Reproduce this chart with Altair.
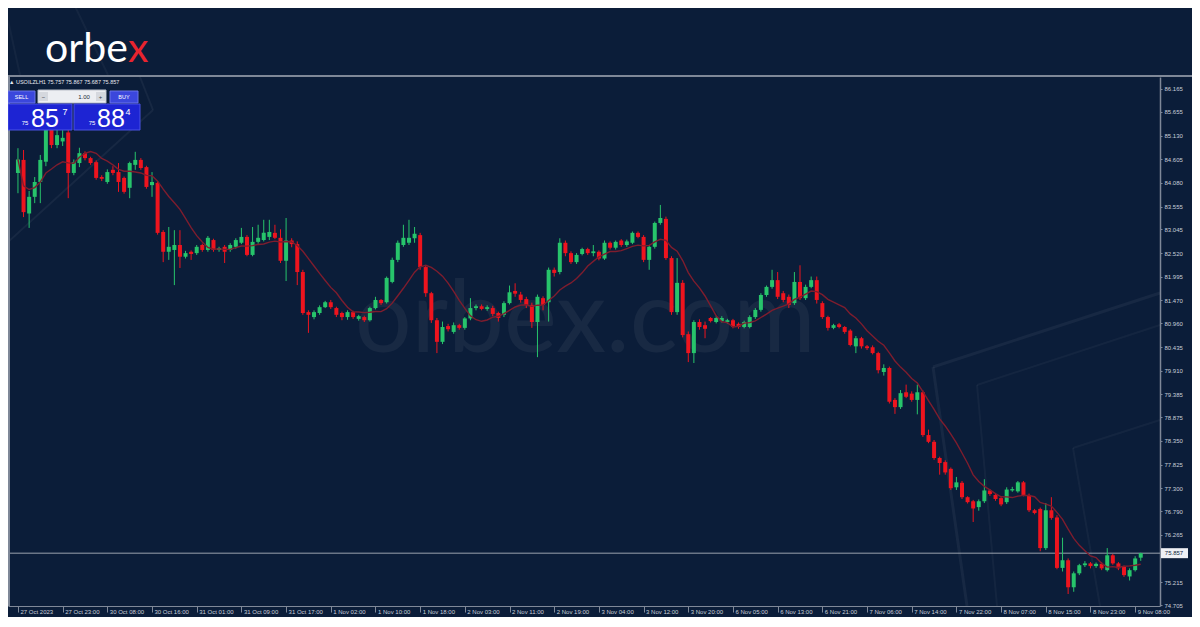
import json
import altair as alt
import pandas as pd

# ---------------- data (USOIL, H1) ----------------
opens = [84.30, 84.59, 83.40, 83.77, 84.10, 84.55, 85.30, 84.92, 85.00, 85.20,
         84.30, 84.52, 84.74, 84.63, 84.54, 84.21, 84.10, 84.37, 84.32, 84.19,
         83.97, 84.48, 84.59, 84.43, 84.03, 84.08, 82.99, 82.55, 82.59, 82.70,
         82.44, 82.55, 82.52, 82.70, 82.59, 82.81, 82.59, 82.66, 82.59, 82.66,
         82.75, 82.88, 82.48, 82.77, 82.81, 82.88, 82.97, 82.86, 82.35, 82.80,
         82.72, 82.10, 81.21, 81.10, 81.19, 81.32, 81.43, 81.30, 81.19, 81.10,
         81.21, 81.06, 81.10, 81.03, 81.30, 81.48, 81.43, 81.88, 82.37, 82.70,
         82.75, 82.85, 82.92, 82.21, 81.63, 81.03, 80.55, 80.90, 80.77, 80.92,
         80.86, 81.07, 81.30, 81.34, 81.28, 81.30, 81.19, 81.15, 81.41, 81.68,
         81.60, 81.50, 81.37, 80.99, 81.52, 81.43, 82.15, 82.10, 82.75, 82.52,
         82.32, 82.50, 82.61, 82.52, 82.55, 82.40, 82.75, 82.64, 82.80, 82.70,
         82.75, 82.97, 82.88, 82.37, 82.66, 83.19, 83.28, 82.41, 81.21, 81.86,
         80.72, 80.30, 80.99, 80.92, 81.08, 80.99, 81.01, 80.99, 81.03, 80.95,
         80.88, 80.88, 81.10, 81.26, 81.59, 81.77, 81.92, 81.63, 81.55, 81.41,
         81.88, 81.52, 81.77, 81.92, 81.41, 81.10, 80.86, 80.94, 80.88, 80.80,
         80.45, 80.63, 80.45, 80.43, 80.30, 79.88, 79.97, 79.26, 79.10, 79.43,
         79.40, 79.26, 79.43, 78.48, 78.33, 77.97, 77.88, 77.73, 77.32, 77.42,
         77.10, 77.01, 76.88, 77.01, 77.25, 77.15, 77.08, 76.99, 77.25, 77.23,
         77.43, 77.15, 76.81, 76.84, 75.97, 76.81, 76.65, 75.53, 75.70, 75.10,
         75.41, 75.59, 75.63, 75.57, 75.62, 75.48, 75.81, 75.63, 75.55, 75.34,
         75.48, 75.757]

highs = [84.85, 84.81, 83.90, 84.21, 84.70, 85.50, 85.55, 85.30, 85.25, 85.35,
         84.60, 84.86, 84.78, 84.66, 84.58, 84.25, 84.38, 84.45, 84.52, 84.22,
         84.55, 84.77, 84.63, 84.46, 84.32, 84.12, 83.03, 83.10, 83.03, 83.03,
         82.57, 82.58, 82.70, 82.73, 82.90, 82.84, 82.66, 82.70, 82.74, 82.85,
         83.08, 82.92, 83.10, 83.15, 83.26, 83.26, 83.15, 83.05, 83.30, 82.85,
         82.78, 82.15, 81.25, 81.25, 81.36, 81.46, 81.48, 81.33, 81.22, 81.25,
         81.24, 81.15, 81.13, 81.33, 81.55, 81.50, 82.00, 82.42, 82.80, 83.15,
         83.26, 83.10, 82.97, 82.25, 81.66, 81.08, 81.00, 80.95, 80.98, 80.95,
         81.10, 81.52, 81.38, 81.38, 81.36, 81.35, 81.22, 81.45, 81.80, 81.85,
         81.66, 81.55, 81.42, 81.60, 81.56, 82.20, 82.20, 82.85, 82.80, 82.56,
         82.52, 82.64, 82.64, 82.70, 82.58, 82.80, 82.78, 82.80, 82.83, 82.82,
         83.00, 83.00, 82.92, 82.70, 83.22, 83.59, 83.33, 82.45, 82.41, 81.92,
         80.78, 81.03, 81.05, 81.00, 81.10, 81.12, 81.12, 81.06, 81.06, 80.98,
         81.02, 81.14, 81.30, 81.63, 81.80, 82.15, 82.10, 81.68, 81.60, 82.10,
         82.25, 81.82, 82.00, 82.00, 81.45, 81.13, 80.95, 80.97, 80.90, 80.83,
         80.68, 80.66, 80.48, 80.47, 80.33, 80.05, 80.00, 79.30, 79.48, 79.60,
         79.45, 79.60, 79.47, 78.60, 78.37, 78.00, 77.92, 77.76, 77.55, 77.46,
         77.12, 77.04, 77.05, 77.50, 77.28, 77.18, 77.10, 77.32, 77.33, 77.46,
         77.46, 77.18, 76.84, 76.87, 76.97, 77.10, 76.70, 76.20, 75.74, 75.45,
         75.62, 75.68, 75.66, 75.65, 75.66, 75.97, 75.84, 75.66, 75.58, 75.52,
         75.79, 75.867]

lows = [83.85, 83.32, 83.08, 83.63, 83.63, 84.45, 84.85, 84.85, 84.90, 83.74,
        84.25, 84.43, 84.58, 84.48, 84.15, 84.12, 84.06, 84.25, 83.88, 83.84,
        83.74, 84.37, 84.37, 83.95, 83.77, 82.93, 82.32, 82.37, 81.81, 82.19,
        82.40, 82.37, 82.48, 82.55, 82.55, 82.55, 82.55, 82.30, 82.55, 82.62,
        82.72, 82.45, 82.45, 82.73, 82.78, 82.81, 82.83, 82.30, 81.90, 82.65,
        81.81, 81.15, 80.75, 81.05, 81.15, 81.30, 81.28, 81.10, 81.03, 81.04,
        81.06, 81.02, 80.99, 81.00, 81.27, 81.37, 81.40, 81.85, 82.32, 82.66,
        82.70, 82.75, 82.15, 81.55, 80.97, 80.30, 80.50, 80.78, 80.73, 80.82,
        80.82, 81.03, 81.25, 81.25, 81.24, 81.12, 81.00, 81.10, 81.38, 81.55,
        81.42, 81.30, 80.86, 80.21, 81.25, 81.00, 82.00, 82.05, 82.45, 82.28,
        82.28, 82.47, 82.48, 82.45, 82.36, 82.37, 82.60, 82.60, 82.66, 82.66,
        82.72, 82.85, 82.32, 82.15, 82.62, 83.15, 82.37, 81.15, 81.15, 80.65,
        80.10, 80.08, 80.82, 80.63, 80.98, 80.96, 80.98, 80.95, 80.85, 80.84,
        80.85, 80.85, 81.06, 81.22, 81.55, 81.73, 81.50, 81.43, 81.30, 81.37,
        81.48, 81.48, 81.74, 81.40, 81.06, 80.80, 80.83, 80.85, 80.73, 80.45,
        80.30, 80.40, 80.37, 80.27, 79.85, 79.80, 79.18, 78.95, 79.06, 79.30,
        79.22, 78.94, 78.44, 78.30, 77.93, 77.60, 77.60, 77.26, 77.26, 77.06,
        76.96, 76.55, 76.80, 76.97, 77.13, 77.02, 76.90, 76.95, 77.22, 77.20,
        77.12, 76.77, 76.72, 75.90, 75.93, 76.60, 75.50, 75.45, 74.95, 75.00,
        75.37, 75.55, 75.52, 75.53, 75.48, 75.45, 75.60, 75.48, 75.33, 75.25,
        75.45, 75.687]

closes = [84.60, 83.43, 83.77, 84.10, 84.59, 85.30, 84.92, 85.14, 85.08, 84.30,
          84.54, 84.74, 84.63, 84.52, 84.19, 84.17, 84.32, 84.30, 84.10, 83.88,
          84.52, 84.59, 84.41, 83.99, 84.10, 82.97, 82.55, 82.66, 82.70, 82.44,
          82.52, 82.50, 82.66, 82.59, 82.86, 82.59, 82.63, 82.55, 82.70, 82.81,
          82.88, 82.48, 82.77, 82.86, 82.97, 82.99, 82.86, 82.35, 82.80, 82.72,
          82.10, 81.19, 81.15, 81.21, 81.32, 81.43, 81.32, 81.15, 81.10, 81.21,
          81.10, 81.12, 81.03, 81.30, 81.48, 81.41, 81.97, 82.37, 82.75, 82.86,
          82.86, 82.95, 82.21, 81.63, 81.03, 80.55, 80.88, 80.83, 80.92, 80.86,
          81.07, 81.30, 81.34, 81.28, 81.32, 81.17, 81.08, 81.41, 81.65, 81.62,
          81.48, 81.37, 80.99, 81.55, 81.37, 82.15, 82.08, 82.75, 82.52, 82.32,
          82.48, 82.61, 82.52, 82.56, 82.40, 82.75, 82.64, 82.77, 82.70, 82.78,
          82.97, 82.88, 82.37, 82.66, 83.19, 83.30, 82.41, 81.21, 81.86, 80.70,
          80.30, 80.99, 80.88, 80.84, 81.01, 81.08, 81.08, 81.03, 80.88, 80.88,
          80.99, 81.10, 81.26, 81.59, 81.77, 81.92, 81.55, 81.48, 81.37, 81.88,
          81.52, 81.77, 81.92, 81.48, 81.10, 80.86, 80.92, 80.88, 80.77, 80.48,
          80.63, 80.45, 80.41, 80.30, 79.92, 79.97, 79.22, 79.10, 79.41, 79.33,
          79.26, 79.43, 78.48, 78.33, 77.97, 77.86, 77.65, 77.30, 77.43, 77.10,
          76.99, 76.85, 77.01, 77.25, 77.17, 77.06, 76.94, 77.27, 77.28, 77.43,
          77.15, 76.81, 76.75, 75.97, 76.81, 76.64, 75.53, 75.70, 75.10, 75.41,
          75.59, 75.63, 75.57, 75.62, 75.52, 75.81, 75.63, 75.52, 75.37, 75.48,
          75.74, 75.857]

time_labels = ["27 Oct 2023", "27 Oct 23:00", "30 Oct 08:00", "30 Oct 16:00",
               "31 Oct 01:00", "31 Oct 09:00", "31 Oct 17:00", "1 Nov 02:00",
               "1 Nov 10:00", "1 Nov 18:00", "2 Nov 03:00", "2 Nov 11:00",
               "2 Nov 19:00", "3 Nov 04:00", "3 Nov 12:00", "3 Nov 20:00",
               "6 Nov 05:00", "6 Nov 13:00", "6 Nov 21:00", "7 Nov 06:00",
               "7 Nov 14:00", "7 Nov 22:00", "8 Nov 07:00", "8 Nov 15:00",
               "8 Nov 23:00", "9 Nov 08:00"]
bars_per_label = 8

price_ticks = [86.165, 85.655, 85.130, 84.605, 84.080, 83.555, 83.045, 82.520,
               81.995, 81.470, 80.960, 80.435, 79.910, 79.385, 78.875, 78.350,
               77.825, 77.300, 76.790, 76.265, 75.215, 74.705]
last_price = 75.857
symbol_line = "\u25B2 USOILZLH1  75.757 75.867 75.687 75.857"
ma_period = 10

# ---------------- styling ----------------
BG = "#0b1d39"
GREEN = "#27c46b"
RED = "#ee141e"
MA_COLOR = "#7e1d2e"
FRAME = "#7f8898"
LABEL = "#c8cfda"

W, H = 1152, 529

df = pd.DataFrame({"i": list(range(len(opens))), "open": opens, "high": highs,
                   "low": lows, "close": closes})

xscale = alt.Scale(domain=[-0.887, 203.55], nice=False, zero=False)
yscale = alt.Scale(domain=[74.684, 86.431], nice=False, zero=False)

label_expr = json.dumps(time_labels) + "[round(datum.value / %d)]" % bars_per_label
xaxis = alt.Axis(values=list(range(0, bars_per_label * len(time_labels), bars_per_label)),
                 labelExpr=label_expr, title=None, grid=False,
                 labelAlign="left", labelBaseline="middle", labelFontSize=6,
                 labelFont="Liberation Sans", labelColor=LABEL, labelPadding=-1,
                 labelOffset=2, tickSize=6, tickColor=FRAME, domainColor=FRAME,
                 domainWidth=1, labelOverlap=False, labelFlush=False, labelBound=False)
yaxis = alt.Axis(orient="right", values=price_ticks, format=".3f", title=None, grid=False,
                 labelFontSize=6, labelFont="Liberation Sans", labelColor=LABEL,
                 labelAlign="left", labelBaseline="middle", tickSize=2, tickColor=FRAME,
                 labelPadding=2, domainColor=FRAME, domainWidth=1.5, labelOverlap=False,
                 labelFlush=False, labelBound=False)

X = alt.X("i:Q", scale=xscale, axis=xaxis)
updown = alt.condition("datum.close >= datum.open", alt.value(GREEN), alt.value(RED))

one = pd.DataFrame({"k": [0]})


def seg(x1, y1, x2, y2, color, width=1.0, opacity=1.0):
    return alt.Chart(one).mark_rule(color=color, strokeWidth=width, opacity=opacity).encode(
        x=alt.value(x1), y=alt.value(y1), x2=alt.value(x2), y2=alt.value(y2))


def txt(s, x, y, size, color, align="left", baseline="alphabetic",
        font="Liberation Sans", weight="normal", opacity=1.0):
    return alt.Chart(one).mark_text(text=s, fontSize=size, color=color, align=align,
                                    baseline=baseline, font=font, fontWeight=weight,
                                    opacity=opacity).encode(x=alt.value(x), y=alt.value(y))


def box(x1, y1, x2, y2, fill, stroke=None):
    kw = dict(fill=fill, opacity=1)
    if stroke:
        kw.update(stroke=stroke, strokeWidth=1)
    return alt.Chart(one).mark_rect(**kw).encode(
        x=alt.value(x1), x2=alt.value(x2), y=alt.value(y1), y2=alt.value(y2))


# ---------------- decorations (background) ----------------
deco = [
    seg(64, -77, 100, -2, "#ffffff", 2, 0.04),
    seg(0, -57, 12, -2, "#ffffff", 2, 0.04),
    seg(0, 165, 145, 33, "#ffffff", 2, 0.05),
    seg(145, 33, 132, 0, "#ffffff", 2, 0.05),
    seg(925, 290, 1152, 216, "#ffffff", 3, 0.05),
    seg(925, 290, 959, 529, "#ffffff", 3, 0.05),
    seg(969, 308, 1152, 248, "#ffffff", 2, 0.04),
    seg(969, 308, 989, 529, "#ffffff", 2, 0.04),
    seg(1152, 343, 1065, 371, "#ffffff", 2, 0.04),
    seg(1065, 371, 1092, 529, "#ffffff", 2, 0.04),
    txt("orbex.com", 347, 275, 100, "#ffffff", font="Lato", opacity=0.05),
]

# ---------------- price chart ----------------
base = alt.Chart(df)
price_line = alt.Chart(pd.DataFrame({"p": [last_price]})).mark_rule(
    color="#9aa2ae", strokeWidth=1).encode(
    y=alt.Y("p:Q", scale=yscale, axis=yaxis), x=alt.value(0), x2=alt.value(W))
wicks = base.mark_rule(strokeWidth=1).encode(
    x=X, y=alt.Y("low:Q", scale=yscale, axis=yaxis), y2="high:Q", color=updown)
bodies = base.mark_bar(size=4).encode(
    x=X, y=alt.Y("open:Q", scale=yscale, axis=yaxis), y2="close:Q", color=updown)
ma = base.transform_window(
    ma="mean(close)", frame=[-(ma_period - 1), 0], sort=[alt.SortField("i")]
).mark_line(color=MA_COLOR, strokeWidth=1.4).encode(
    x=X, y=alt.Y("ma:Q", scale=yscale, axis=yaxis))

pdf = pd.DataFrame({"p": [last_price], "lbl": ["%.3f" % last_price]})
price_box = alt.Chart(pdf).mark_rule(color="#eef0f4", strokeWidth=10).encode(
    y=alt.Y("p:Q", scale=yscale, axis=yaxis), x=alt.value(1153), x2=alt.value(1180))
price_txt = alt.Chart(pdf).mark_text(fontSize=6, color="#0b1d39", align="center",
                                     baseline="middle", font="Liberation Sans").encode(
    y=alt.Y("p:Q", scale=yscale, axis=yaxis), x=alt.value(1166), text="lbl:N")

# ---------------- frame, logo, trade panel ----------------
frame = [
    seg(0, -1, 1184, -1, FRAME, 2),
    seg(1, -1, 1, H, FRAME, 2),
]
logo = [
    txt("orbe", 37, -15, 41, "#ffffff", font="Lato"),
    txt("x", 120, -15, 41, "#e8242f", font="Lato"),
]
panel = [
    txt(symbol_line, 1, 7, 5.5, "#e6e9ef"),
    box(0, 14, 27, 26, "#3b47dc", "#6a74ea"),
    txt("SELL", 13.5, 20, 5.5, "#ffffff", align="center", baseline="middle"),
    box(30, 13, 98, 26, "#eceef2", "#b9bec8"),
    box(31, 15, 40, 24, "#d5d8de"),
    box(88, 15, 97, 24, "#d5d8de"),
    txt("\u2212", 35.5, 19.5, 6, "#333a48", align="center", baseline="middle"),
    txt("+", 92.5, 19.5, 6, "#333a48", align="center", baseline="middle"),
    txt("1.00", 76, 19.5, 6, "#222a38", align="center", baseline="middle"),
    box(102, 14, 130, 26, "#3b47dc", "#6a74ea"),
    txt("BUY", 116, 20, 5.5, "#ffffff", align="center", baseline="middle"),
    box(0, 27, 64, 53, "#1d24d3", "#4a52e4"),
    box(66, 27, 132, 53, "#1d24d3", "#4a52e4"),
    txt("75", 17, 48, 6, "#ffffff", align="center"),
    txt("85", 37, 50, 25, "#ffffff", align="center"),
    txt("7", 57, 38, 9, "#ffffff", align="center"),
    txt("75", 84, 48, 6, "#ffffff", align="center"),
    txt("88", 103, 50, 25, "#ffffff", align="center"),
    txt("4", 120, 38, 9, "#ffffff", align="center"),
]

chart = alt.layer(
    *deco, price_line, wicks, bodies, ma, price_box, price_txt, *frame, *logo, *panel
).properties(
    width=W, height=H,
    autosize=alt.AutoSizeParams(type="none"),
    padding={"left": 0, "top": 69, "right": 32, "bottom": 11},
).configure(background=BG).configure_view(stroke=None)

chart.save("out.html", embed_options={"renderer": "svg", "actions": False})
